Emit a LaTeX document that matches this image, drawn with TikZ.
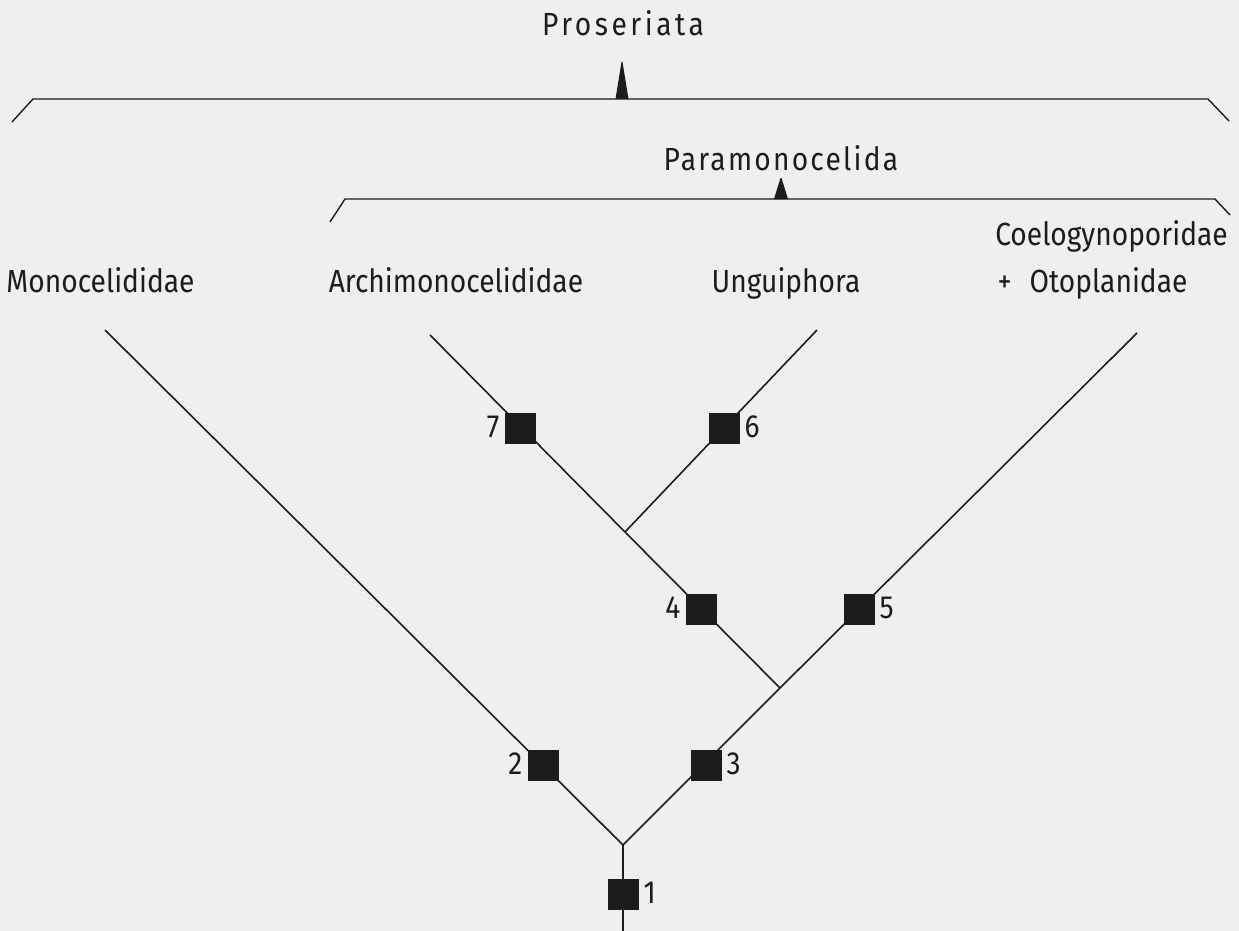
\documentclass[tikz,border=0pt]{standalone}
\usepackage{fontspec}
\setmainfont{Fira Sans}[FakeStretch=0.88]
\newfontfamily\spacedfont{Fira Sans}[FakeStretch=0.88,LetterSpace=11]
\newfontfamily\spacedfontb{Fira Sans}[FakeStretch=0.88,LetterSpace=7]
\definecolor{paper}{HTML}{EEF0EF}
\definecolor{ink}{HTML}{1C1C1C}
\begin{document}
\begin{tikzpicture}[x=1pt,y=-1pt,
  branch/.style={draw=ink,line width=1.6pt},
  brack/.style={draw=ink,line width=1.4pt},
  sq/.style={fill=ink,minimum size=31pt,inner sep=0pt,outer sep=0pt},
  taxon/.style={anchor=base,inner sep=0pt,text=ink,font=\fontsize{32}{36}\selectfont},
  num/.style={inner sep=0pt,text=ink,font=\fontsize{32}{36}\selectfont}]
\fill[paper] (0,0) rectangle (1239,931);
\useasboundingbox (0,0) rectangle (1239,931);
% coordinates
\coordinate (base) at (623,931);
\coordinate (R) at (623,845);
\coordinate (A) at (780,688);
\coordinate (B) at (625,532);
\coordinate (tM) at (105,330);
\coordinate (tA) at (430,335);
\coordinate (tU) at (817,330);
\coordinate (tC) at (1137,333);
% branches
\draw[branch] (base) -- (R);
\draw[branch] (R) -- (tM);
\draw[branch] (R) -- (A);
\draw[branch] (A) -- (B);
\draw[branch] (A) -- (tC);
\draw[branch] (B) -- (tA);
\draw[branch] (B) -- (tU);
% boxes
\node[sq] (b1) at (623,894) {};
\node[sq] (b2) at (543,765) {};
\node[sq] (b3) at (706,765) {};
\node[sq] (b4) at (701,609) {};
\node[sq] (b5) at (859,609) {};
\node[sq] (b6) at (724,428) {};
\node[sq] (b7) at (520,428) {};
% numbers
\node[num,anchor=base west] at ([xshift=5pt,yshift=-9pt]b1.east) {1};
\node[num,anchor=base east] at ([xshift=-5pt,yshift=-9pt]b2.west) {2};
\node[num,anchor=base west] at ([xshift=5pt,yshift=-9pt]b3.east) {3};
\node[num,anchor=base east] at ([xshift=-5pt,yshift=-9pt]b4.west) {4};
\node[num,anchor=base west] at ([xshift=5pt,yshift=-9pt]b5.east) {5};
\node[num,anchor=base west] at ([xshift=5pt,yshift=-9pt]b6.east) {6};
\node[num,anchor=base east] at ([xshift=-5pt,yshift=-9pt]b7.west) {7};
% taxa
\node[taxon] (mono) at (100.5,292) {Monocelididae};
\node[taxon] (archi) at (456,292) {Archimonocelididae};
\node[taxon] (ungui) at (786,292) {Unguiphora};
\node[taxon] (coel) at (1111.5,245) {Coelogynoporidae};
\node[taxon] (otop) at (1092.5,292) {+\hspace{18pt}Otoplanidae};
% brackets
\node[taxon,font=\fontsize{32}{36}\spacedfont] (pros) at (623,36) {Proseriata};
\draw[brack] (12,122) -- (33,99) -- (1208,99) -- (1229,121);
\fill[ink] (615.5,99) -- (621.5,62) -- (622.5,62) -- (628.5,99) -- cycle;
\node[taxon,font=\fontsize{32}{36}\spacedfontb] (para) at (781,170) {Paramonocelida};
\draw[brack] (330,222) -- (345,199) -- (1215,199) -- (1230,215);
\fill[ink] (774,199) -- (780.5,178) -- (781.5,178) -- (788,199) -- cycle;
\end{tikzpicture}
\end{document}
